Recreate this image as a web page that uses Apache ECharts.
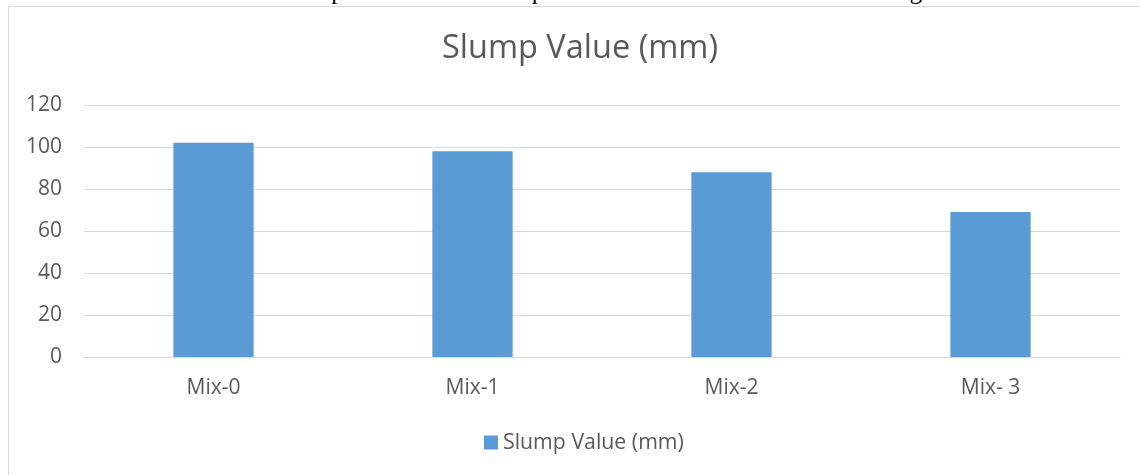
<!DOCTYPE html>
<html>
<head>
<meta charset="utf-8">
<script src="https://cdn.jsdelivr.net/npm/echarts@6/dist/echarts.min.js"></script>
<style>
html,body{margin:0;padding:0;background:#fff;}
#c{width:1140px;height:475px;}
</style>
</head>
<body>
<div id="c"></div>
<script>
const categories = ['Mix-0', 'Mix-1', 'Mix-2', 'Mix- 3'];
const seriesName = 'Slump Value (mm)';
const slumpValues = [102, 98, 88, 69];
const yTicks = { min: 0, max: 120, interval: 20 };
const chartTitle = 'Slump Value (mm)';
const caption = 'Chart 4 Comparison of the Slump values of different Mixes of Waste glass';

const chart = echarts.init(document.getElementById('c'), null, { renderer: 'canvas' });
const font = '"Open Sans", sans-serif';
chart.setOption({
  animation: false,
  backgroundColor: '#fff',
  graphic: [
    { type: 'rect', shape: { x: 8.5, y: 6.5, width: 1140, height: 480 }, style: { fill: 'none', stroke: '#d9d9d9', lineWidth: 1 } },
    { type: 'text', x: 580, y: -7.5, style: { text: caption, font: '25.5px "Liberation Serif", serif', fill: '#000', align: 'center', verticalAlign: 'middle' } }
  ],
  title: {
    text: chartTitle, left: 437, top: 27,
    textStyle: { fontFamily: font, fontSize: 32.5, fontWeight: 'normal', color: '#595959' }
  },
  legend: {
    data: [seriesName], bottom: 17, left: 479,
    itemWidth: 14, itemHeight: 14, icon: 'rect', itemGap: 6,
    textStyle: { fontFamily: font, fontSize: 21.3, color: '#595959' }
  },
  grid: { left: 84, right: 20, top: 105, bottom: 118, containLabel: false },
  xAxis: {
    type: 'category', data: categories,
    axisLine: { lineStyle: { color: '#d9d9d9' } },
    axisTick: { show: false },
    axisLabel: { fontFamily: font, fontSize: 21, color: '#595959', margin: 21 }
  },
  yAxis: {
    type: 'value', min: yTicks.min, max: yTicks.max, interval: yTicks.interval,
    axisLine: { show: false }, axisTick: { show: false },
    splitLine: { lineStyle: { color: '#d9d9d9', width: 1 } },
    axisLabel: { fontFamily: font, fontSize: 21, color: '#595959', margin: 22 }
  },
  series: [{
    name: seriesName, type: 'bar', data: slumpValues, barWidth: '31%',
    itemStyle: { color: '#5b9bd5' }
  }]
});
</script>
</body>
</html>
